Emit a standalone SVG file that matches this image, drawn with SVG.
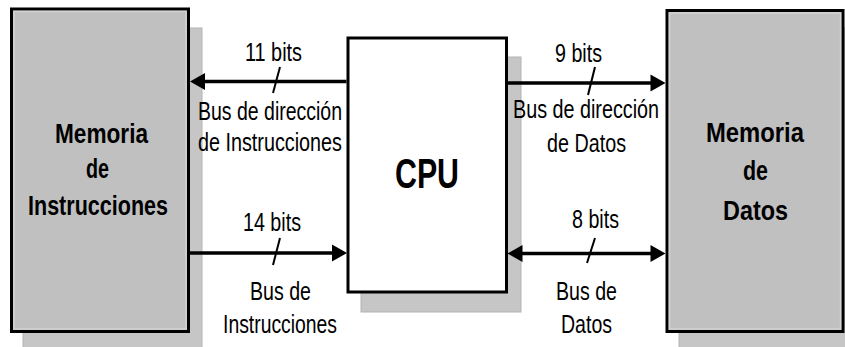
<svg xmlns="http://www.w3.org/2000/svg" width="845" height="347" viewBox="0 0 845 347">
<style>
.shadow{fill:#c6c6c6;stroke:#b4b4b4;stroke-width:1}
.mem{fill:#c0c0c0;stroke:#000;stroke-width:3}
.inner{fill:none;stroke:#d2d2d2;stroke-width:1.5}
.cpu{fill:#fff;stroke:#000;stroke-width:3}
.bus{stroke:#000;stroke-width:3.5;fill:none}
.tick{stroke:#000;stroke-width:2;fill:none}
.head{fill:#000}
.lbl{font-family:"Liberation Sans",Arial,sans-serif;font-size:25px;fill:#000}
.big{font-family:"Liberation Sans",Arial,sans-serif;font-size:28px;font-weight:bold;fill:#000}
.cpuT{font-family:"Liberation Sans",Arial,sans-serif;font-size:43px;font-weight:bold;fill:#000}
</style>
<rect width="845" height="347" fill="#fff"/>
<g id="mem-instr">
<rect class="shadow" x="23" y="28" width="179" height="325"/>
<rect class="mem" x="11.5" y="9" width="177" height="322.5"/>
<rect class="inner" x="14" y="11.5" width="172" height="317.5"/>
<text class="big" x="55" y="143" textLength="93" lengthAdjust="spacingAndGlyphs">Memoria</text>
<text class="big" x="86" y="178" textLength="23" lengthAdjust="spacingAndGlyphs">de</text>
<text class="big" x="28" y="215" textLength="140" lengthAdjust="spacingAndGlyphs">Instrucciones</text>
</g>
<g id="cpu">
<rect class="shadow" x="361" y="57" width="160" height="255"/>
<rect class="cpu" x="348" y="38" width="158.5" height="254"/>
<text class="cpuT" x="395" y="188" textLength="64" lengthAdjust="spacingAndGlyphs">CPU</text>
</g>
<g id="mem-datos">
<rect class="shadow" x="679" y="28" width="175" height="325"/>
<rect class="mem" x="667" y="10.5" width="176" height="321"/>
<rect class="inner" x="669.5" y="13" width="171" height="316"/>
<text class="big" x="706" y="142" textLength="98" lengthAdjust="spacingAndGlyphs">Memoria</text>
<text class="big" x="743" y="180" textLength="25" lengthAdjust="spacingAndGlyphs">de</text>
<text class="big" x="723" y="220" textLength="65" lengthAdjust="spacingAndGlyphs">Datos</text>
</g>
<g id="connectors">
<line class="bus" x1="346.5" y1="81.5" x2="200" y2="81.5"/>
<path class="head" d="M190,81.5 L205,73 L205,90 Z"/>
<line class="tick" x1="280" y1="67" x2="273" y2="93"/>
<line class="bus" x1="190" y1="253" x2="336" y2="253"/>
<path class="head" d="M347,253 L332,244.5 L332,261.5 Z"/>
<line class="tick" x1="280" y1="238" x2="273" y2="265"/>
<line class="bus" x1="507.5" y1="83" x2="655" y2="83"/>
<path class="head" d="M665.5,83 L650.5,74.5 L650.5,91.5 Z"/>
<line class="tick" x1="595" y1="67" x2="588" y2="95"/>
<line class="bus" x1="517" y1="253.5" x2="655" y2="253.5"/>
<path class="head" d="M665.5,253.5 L650.5,245 L650.5,262 Z"/>
<path class="head" d="M507.5,253.5 L522.5,245 L522.5,262 Z"/>
<line class="tick" x1="595" y1="238" x2="587" y2="263"/>
</g>
<g id="labels">
<text class="lbl" x="245" y="61" textLength="57" lengthAdjust="spacingAndGlyphs">11 bits</text>
<text class="lbl" x="198" y="119.5" textLength="144" lengthAdjust="spacingAndGlyphs">Bus de dirección</text>
<text class="lbl" x="198" y="151" textLength="144" lengthAdjust="spacingAndGlyphs">de Instrucciones</text>
<text class="lbl" x="243" y="231" textLength="58" lengthAdjust="spacingAndGlyphs">14 bits</text>
<text class="lbl" x="250" y="300" textLength="61" lengthAdjust="spacingAndGlyphs">Bus de</text>
<text class="lbl" x="223" y="333" textLength="114" lengthAdjust="spacingAndGlyphs">Instrucciones</text>
<text class="lbl" x="555" y="62" textLength="47" lengthAdjust="spacingAndGlyphs">9 bits</text>
<text class="lbl" x="513" y="118" textLength="146" lengthAdjust="spacingAndGlyphs">Bus de dirección</text>
<text class="lbl" x="547" y="152" textLength="79" lengthAdjust="spacingAndGlyphs">de Datos</text>
<text class="lbl" x="572" y="228" textLength="47" lengthAdjust="spacingAndGlyphs">8 bits</text>
<text class="lbl" x="556" y="300" textLength="61" lengthAdjust="spacingAndGlyphs">Bus de</text>
<text class="lbl" x="561" y="333" textLength="51" lengthAdjust="spacingAndGlyphs">Datos</text>
</g>
</svg>
